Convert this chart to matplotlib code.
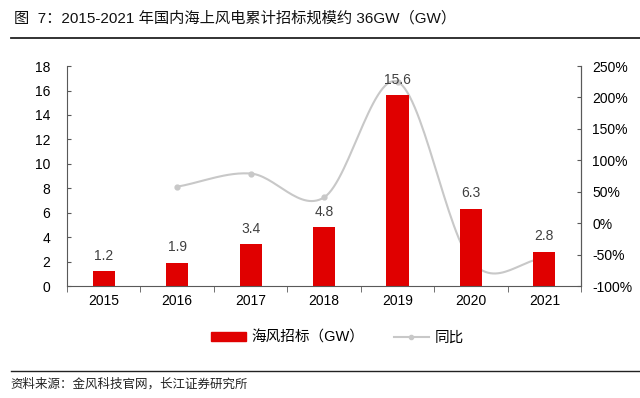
import numpy as np
import matplotlib
matplotlib.use("Agg")
import matplotlib.pyplot as plt
from matplotlib.lines import Line2D
from matplotlib.patches import Patch

plt.rcParams['font.family'] = ['Liberation Sans', 'Noto Sans CJK SC', 'DejaVu Sans']

years = ["2015", "2016", "2017", "2018", "2019", "2020", "2021"]
tender_gw = [1.2, 1.9, 3.4, 4.8, 15.6, 6.3, 2.8]
yoy_pct = [None, 58, 79, 41, 225, -60, -56]

def catmull_rom(xs, ys, n=30):
    xs = np.asarray(xs, float); ys = np.asarray(ys, float)
    px = np.concatenate([[2*xs[0]-xs[1]], xs, [2*xs[-1]-xs[-2]]])
    py = np.concatenate([[2*ys[0]-ys[1]], ys, [2*ys[-1]-ys[-2]]])
    ox, oy = [], []
    for i in range(1, len(px)-2):
        t = np.linspace(0, 1, n, endpoint=False)
        for arr, out in ((px, ox), (py, oy)):
            p0, p1, p2, p3 = arr[i-1], arr[i], arr[i+1], arr[i+2]
            out.extend(0.5*((2*p1) + (-p0+p2)*t + (2*p0-5*p1+4*p2-p3)*t**2 + (-p0+3*p1-3*p2+p3)*t**3))
    ox.append(xs[-1]); oy.append(ys[-1])
    return np.array(ox), np.array(oy)

fig = plt.figure(figsize=(6.4, 3.98), dpi=100)
ax = fig.add_axes([0.1047, 0.2814, 0.8033, 0.5526])
x = np.arange(len(years))
red = "#E00000"
ax.bar(x, tender_gw, width=0.3, color=red, zorder=2)
for xi, v in zip(x, tender_gw):
    ax.text(xi, v + 0.7, f"{v}", ha="center", va="bottom", fontsize=10, color="#404040", zorder=5)

ax.set_xlim(-0.5, len(years) - 0.5)
ax.set_ylim(0, 18)
ax.set_yticks(range(0, 19, 2))
ax.set_xticks(x)
ax.set_xticklabels(years, fontsize=10)
ax.set_xticks(np.arange(-0.5, len(years)), minor=True)
ax.tick_params(axis="x", which="major", length=0, pad=6)
ax.tick_params(axis="x", which="minor", length=4, direction="out", color="#595959")
ax.tick_params(axis="y", direction="in", length=3, labelsize=10, color="#595959", pad=12)
for s in ["top"]:
    ax.spines[s].set_visible(False)
for s in ["left", "bottom", "right"]:
    ax.spines[s].set_color("#595959")
    ax.spines[s].set_linewidth(0.8)

ax2 = ax.twinx()
ax2.set_ylim(-100, 250)
ax2.set_yticks(range(-100, 251, 50))
ax2.set_yticklabels([f"{v}%" for v in range(-100, 251, 50)], fontsize=10)
ax2.tick_params(axis="y", direction="in", length=3, color="#595959", pad=8)
ax2.spines["top"].set_visible(False)
ax2.spines["right"].set_color("#595959")
ax2.spines["right"].set_linewidth(0.8)
ax2.spines["left"].set_visible(False)
ax2.spines["bottom"].set_visible(False)

lx = [xi for xi, v in zip(x, yoy_pct) if v is not None]
ly = [v for v in yoy_pct if v is not None]
sx, sy = catmull_rom(lx, ly)
gray = "#C8C8C8"
ax2.plot(sx, sy, color=gray, lw=1.5, zorder=3)
ax2.plot(lx, ly, "o", color=gray, ms=3.5, zorder=3)
ax.set_zorder(ax2.get_zorder() + 1)
ax.patch.set_visible(False)

handles = [Patch(color=red), Line2D([0], [0], color=gray, lw=1.5, marker="o", ms=3)]
fig.legend(handles, ["海风招标（GW）", "同比"], loc="center", bbox_to_anchor=(0.527, 0.152),
           ncol=2, frameon=False, fontsize=10.5, handlelength=2.4, handleheight=0.6,
           columnspacing=2.0, handletextpad=0.4)

fig.text(0.022, 0.953, "图  7：2015-2021 年国内海上风电累计招标规模约 36GW（GW）", fontsize=11,
         ha="left", va="center", color="#111111")
fig.add_artist(Line2D([0.017, 1.0], [0.905, 0.905], color="#222222", lw=1.3))
fig.add_artist(Line2D([0.017, 1.0], [0.068, 0.068], color="#222222", lw=1.0))
fig.text(0.017, 0.035, "资料来源：金风科技官网，长江证券研究所", fontsize=9, ha="left", va="center",
         color="#222222")

fig.savefig("out.png", dpi=100)
